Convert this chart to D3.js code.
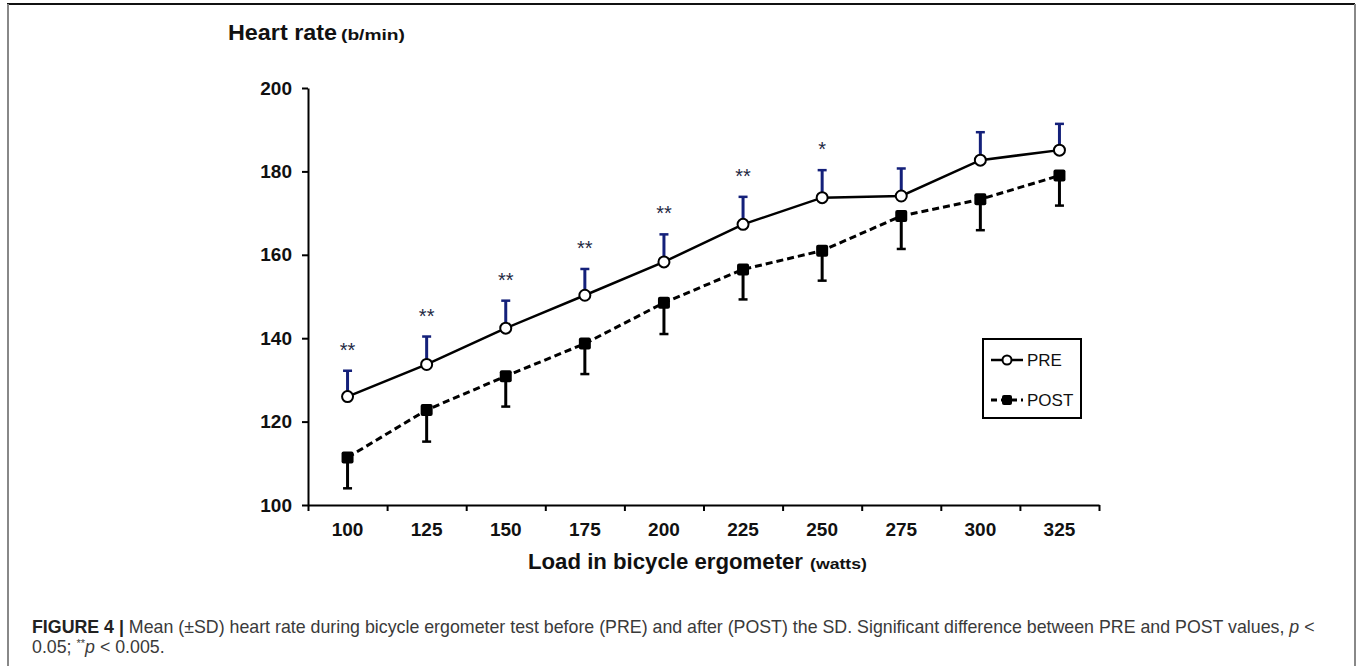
<!DOCTYPE html>
<html>
<head>
<meta charset="utf-8">
<script src="https://cdn.jsdelivr.net/npm/d3@7"></script>
<style>
  body { margin: 0; background: #fff; }
  svg { display: block; font-family: "Liberation Sans", Arial, sans-serif; }
  .axis path, .axis line { stroke: #000; stroke-width: 2; }
  .axis text { font-size: 19px; font-weight: bold; fill: #111; font-family: "Liberation Sans", Arial, sans-serif; }
</style>
</head>
<body>
<script>
// values
var loads = ["100", "125", "150", "175", "200", "225", "250", "275", "300", "325"];
var preMean = [126, 133.7, 142.4, 150.3, 158.3, 167.3, 173.7, 174.1, 182.7, 185.1];
var preSD = [6.2, 6.7, 6.6, 6.3, 6.6, 6.6, 6.6, 6.6, 6.7, 6.3];
var postMean = [111.4, 122.8, 130.9, 138.7, 148.5, 156.5, 161, 169.3, 173.3, 179];
var postSD = [7.4, 7.6, 7.3, 7.3, 7.5, 7.2, 7.2, 7.9, 7.4, 7.2];
var stars = ["**", "**", "**", "**", "**", "**", "*", "", "", ""];
var yTicks = [100, 120, 140, 160, 180, 200];

var width = 1357, height = 666;
var svg = d3.select("body").append("svg")
    .attr("width", width)
    .attr("height", height);

// figure frame
svg.append("line").attr("x1", 7).attr("x2", 1355).attr("y1", 4).attr("y2", 4)
    .attr("stroke", "#111").attr("stroke-width", 2);
svg.append("line").attr("x1", 8).attr("x2", 8).attr("y1", 4).attr("y2", height)
    .attr("stroke", "#888").attr("stroke-width", 2);
svg.append("line").attr("x1", 1355).attr("x2", 1355).attr("y1", 4).attr("y2", height)
    .attr("stroke", "#888").attr("stroke-width", 2);

var x = d3.scaleBand().domain(loads).range([308, 1099]);
var xEdges = d3.scaleLinear().domain([0, loads.length]).range([308, 1099]);
var y = d3.scaleLinear().domain([100, 200]).range([505, 88]);

function cx(i) { return x(loads[i]) + x.bandwidth() / 2; }

// axes
svg.append("g")
    .attr("class", "axis")
    .attr("transform", "translate(308,0)")
    .call(d3.axisLeft(y).tickValues(yTicks).tickSize(6).tickSizeOuter(0).tickPadding(10));

svg.append("g")
    .attr("class", "axis")
    .attr("transform", "translate(0,505)")
    .call(d3.axisBottom(xEdges).tickValues(d3.range(loads.length + 1)).tickFormat("").tickSize(6).tickSizeOuter(0));

var xl = svg.append("g")
    .attr("class", "axis")
    .attr("transform", "translate(0,505)")
    .call(d3.axisBottom(x).tickSize(0).tickPadding(18));
xl.select(".domain").remove();

// axis titles
var yt = svg.append("text").attr("x", 228).attr("y", 40)
    .style("font-weight", "bold").style("fill", "#111");
yt.append("tspan").style("font-size", "22px").attr("textLength", 109).attr("lengthAdjust", "spacingAndGlyphs").text("Heart rate");
yt.append("tspan").attr("x", 341).style("font-size", "15px").attr("textLength", 64).attr("lengthAdjust", "spacingAndGlyphs").text("(b/min)");

var xt = svg.append("text").attr("x", 528).attr("y", 569)
    .style("font-weight", "bold").style("fill", "#111");
xt.append("tspan").style("font-size", "22px").attr("textLength", 275).attr("lengthAdjust", "spacingAndGlyphs").text("Load in bicycle ergometer");
xt.append("tspan").attr("x", 810).style("font-size", "15px").attr("textLength", 57).attr("lengthAdjust", "spacingAndGlyphs").text("(watts)");

// error bars
var capW = 4.5;
loads.forEach(function(d, i) {
    var top = y(preMean[i] + preSD[i]);
    svg.append("line").attr("x1", cx(i)).attr("x2", cx(i))
        .attr("y1", y(preMean[i])).attr("y2", top)
        .attr("stroke", "#14207a").attr("stroke-width", 3);
    svg.append("line").attr("x1", cx(i) - capW).attr("x2", cx(i) + capW)
        .attr("y1", top).attr("y2", top)
        .attr("stroke", "#14207a").attr("stroke-width", 2.5);

    var bot = y(postMean[i] - postSD[i]);
    svg.append("line").attr("x1", cx(i)).attr("x2", cx(i))
        .attr("y1", y(postMean[i])).attr("y2", bot)
        .attr("stroke", "#000").attr("stroke-width", 3);
    svg.append("line").attr("x1", cx(i) - capW).attr("x2", cx(i) + capW)
        .attr("y1", bot).attr("y2", bot)
        .attr("stroke", "#000").attr("stroke-width", 2.5);

    if (stars[i]) {
        svg.append("text").attr("x", cx(i)).attr("y", top - 14)
            .attr("text-anchor", "middle")
            .style("font-size", "20px").style("fill", "#1f2a44")
            .text(stars[i]);
    }
});

// lines
var line = d3.line().x(function(d, i) { return cx(i); }).y(function(d) { return y(d); });

svg.append("path").datum(postMean)
    .attr("d", line).attr("fill", "none")
    .attr("stroke", "#000").attr("stroke-width", 3)
    .attr("stroke-dasharray", "7,4");

svg.append("path").datum(preMean)
    .attr("d", line).attr("fill", "none")
    .attr("stroke", "#000").attr("stroke-width", 2.5);

// markers
svg.selectAll(".post").data(postMean).enter().append("rect")
    .attr("class", "post")
    .attr("x", function(d, i) { return cx(i) - 6; })
    .attr("y", function(d) { return y(d) - 6; })
    .attr("width", 12).attr("height", 12).attr("rx", 2)
    .attr("fill", "#000");

svg.selectAll(".pre").data(preMean).enter().append("circle")
    .attr("class", "pre")
    .attr("cx", function(d, i) { return cx(i); })
    .attr("cy", function(d) { return y(d); })
    .attr("r", 5.5)
    .attr("fill", "#fff").attr("stroke", "#000").attr("stroke-width", 2);

// legend
var lg = svg.append("g");
lg.append("rect").attr("x", 983).attr("y", 339).attr("width", 98).attr("height", 79)
    .attr("fill", "#fff").attr("stroke", "#000").attr("stroke-width", 2);
lg.append("line").attr("x1", 991).attr("x2", 1023).attr("y1", 360).attr("y2", 360)
    .attr("stroke", "#000").attr("stroke-width", 2.5);
lg.append("circle").attr("cx", 1007).attr("cy", 360).attr("r", 4.5)
    .attr("fill", "#fff").attr("stroke", "#000").attr("stroke-width", 2);
lg.append("text").attr("x", 1027).attr("y", 366).style("font-size", "17px").style("fill", "#111").text("PRE");
lg.append("line").attr("x1", 991).attr("x2", 1023).attr("y1", 400).attr("y2", 400)
    .attr("stroke", "#000").attr("stroke-width", 3).attr("stroke-dasharray", "6,4");
lg.append("rect").attr("x", 1002).attr("y", 395).attr("width", 10).attr("height", 10).attr("rx", 2)
    .attr("fill", "#000");
lg.append("text").attr("x", 1027).attr("y", 406).style("font-size", "17px").style("fill", "#111").text("POST");

// caption
var cap1 = svg.append("text").attr("x", 32).attr("y", 633)
    .style("font-size", "17.8px").style("fill", "#3a3a3a");
cap1.append("tspan").style("font-weight", "bold").style("fill", "#222").text("FIGURE 4 | ");
cap1.append("tspan").text("Mean (\u00b1SD) heart rate during bicycle ergometer test before (PRE) and after (POST) the SD. Significant difference between PRE and POST values, ");
cap1.append("tspan").style("font-style", "italic").text("p");
cap1.append("tspan").text(" <");

var cap2 = svg.append("text").attr("x", 32).attr("y", 653)
    .style("font-size", "17.8px").style("fill", "#3a3a3a");
cap2.append("tspan").text("0.05; ");
cap2.append("tspan").style("font-size", "11px").attr("dy", -6).text("**");
cap2.append("tspan").attr("dy", 6).style("font-style", "italic").text("p");
cap2.append("tspan").text(" < 0.005.");
</script>
</body>
</html>
